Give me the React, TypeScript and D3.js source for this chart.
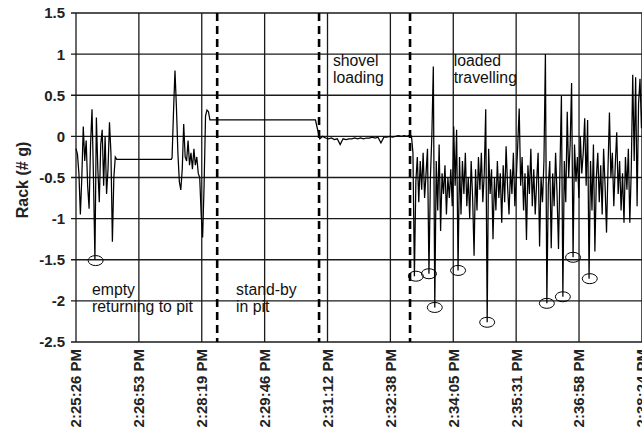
import { useEffect, useRef } from "react";
import * as d3 from "d3";

// Eje X: fechas de Excel, una marca cada 0.001 día (86.4 s) desde 2:25:26 PM
const xTickLabels = [
  "2:25:26 PM", "2:26:53 PM", "2:28:19 PM", "2:29:46 PM", "2:31:12 PM",
  "2:32:38 PM", "2:34:05 PM", "2:35:31 PM", "2:36:58 PM", "2:38:24 PM",
];
const TICK_STEP = 86.4;
const yTicks = [-2.5, -2, -1.5, -1, -0.5, 0, 0.5, 1, 1.5];

// Lecturas del rack (g). start = segundos desde 2:25:26 PM, step = paso de muestreo
const emptyReturn = {
  start: 0, step: 2,
  values: [
    -0.15, -0.22, -0.45, -0.95, -0.5, 0.12, -0.3, -0.05, -0.6, -0.88,
    -0.1, 0.33, -0.5, -1.5, 0.23, -0.4, -0.8, -0.1, 0.08, -0.6,
    0.0, -0.7, -0.4, 0.17, -0.2, -1.28, -0.5, -0.25,
  ],
};
const emptyIdle = { start: 56, step: 75, values: [-0.28, -0.28] };
const dumpBurst = {
  start: 132, step: 2,
  values: [
    -0.26, 0.3, 0.8, 0.35, -0.2, -0.55, -0.65, -0.4, 0.15, -0.25,
    -0.3, -0.05, -0.35, -0.2, -0.4, -0.15, -0.35, -0.25, -0.45, -0.5,
    -0.95, -1.23, -0.6, 0.25, 0.32, 0.3, 0.2,
  ],
};
const standBy = { start: 186, step: 143, values: [0.2, 0.2] };
const shovelLoading = {
  start: 331, step: 4,
  values: [
    0.12, -0.03, 0.0, -0.02, -0.03, -0.02, -0.04, -0.03, -0.1, -0.03,
    -0.04, -0.03, -0.03, -0.02, -0.03, -0.02, -0.03, -0.02, -0.02, -0.01,
    -0.02, -0.01, -0.08, -0.01, -0.01, 0.0, -0.01, 0.0, 0.01, 0.0,
    0.01, 0.0, 0.02,
  ],
};
const loadedTravel = {
  start: 461, step: 2,
  values: [
    0.0, -0.2, -1.7, -0.55, -0.25, -0.8, -0.3, -0.65, -0.2, -0.75,
    -0.45, -0.15, -1.67, -0.5, 0.02, 0.85, -2.08, -0.3, -0.9, -0.1,
    -1.15, -0.45, -0.7, -0.35, -0.95, -0.5, -0.75, -0.4, -0.85, 0.12,
    -0.6, 0.08, -1.63, -0.25, -0.95, -0.3, -0.7, -0.2, -0.85, -0.5,
    -1.0, -0.3, -0.75, -1.45, -0.4, -0.9, -0.25, -0.65, -0.2, -0.8,
    -0.45, 0.33, -2.26, -0.15, -0.7, -0.4, -1.25, -0.5, -0.9, -0.3,
    -0.75, -0.45, -1.05, -0.35, -0.8, -0.12, -0.6, -0.95, -0.4, -0.7,
    -0.2, -0.85, -0.5, -0.1, 0.34, -0.6, -0.25, -0.9, -0.45, -1.26,
    -0.35, -0.7, -0.15, -0.85, -0.4, -0.95, -0.55, -0.2, -1.34, -0.5,
    -0.8, -0.3, 1.0, -2.03, -0.6, -0.3, -1.36, -0.45, -0.85, -0.2,
    -0.7, -1.37, -0.4, 0.49, -1.95, -0.3, -0.8, 0.3, -0.5, -0.1,
    0.65, -1.47, -0.1, -0.55, -0.25, -0.75, 0.0, -0.45, -0.2, 0.22,
    -0.6, 0.2, -1.73, -0.3, -0.9, -0.1, -1.4, -0.5, -0.2, -0.8,
    -0.35, -0.95, -0.15, -0.6, -1.17, -0.4, 0.29, -0.5, -0.2, -0.85,
    -0.35, 0.05, -0.7, -0.3, -0.9, -0.45, -1.05, -0.25, -0.65, -0.15,
    -1.05, -0.4, 0.75, -0.3, 0.72, -0.85, 0.4, 0.7, 0.1, 0.45,
    0.2, 0.6,
  ],
};

// Límites de fase (líneas discontinuas), en segundos
const phaseBoundaries = [194, 334, 459];
// Picos marcados con elipse: [segundos, g]
const markedDips = [
  [27, -1.51], [467, -1.7], [485, -1.67], [493, -2.08], [525, -1.63],
  [565, -2.26], [647, -2.03], [669, -1.95], [683, -1.47], [706, -1.73],
];
// Rótulos de fase: posición en unidades de datos (segundos, g)
const phaseLabels = [
  { t: 22, v: -1.93, lines: ["empty", "returning to pit"] },
  { t: 220, v: -1.93, lines: ["stand-by", "in pit"] },
  { t: 353, v: 0.85, lines: ["shovel", "loading"] },
  { t: 519, v: 0.85, lines: ["loaded", "travelling"] },
];

const FONT = "'Liberation Sans', Arial, sans-serif";

const App = () => {
  const svgRef = useRef<SVGSVGElement | null>(null);

  useEffect(() => {
    if (!svgRef.current) return;
    const svg = d3.select(svgRef.current);
    svg.selectAll("*").remove();

    const W = 642;
    const H = 439;
    const left = 76;
    const top = 13;
    const bottom = 342;

    const x = d3.scaleLinear()
      .domain([0, TICK_STEP * (xTickLabels.length - 1)])
      .range([left, 641.9]);
    const y = d3.scaleLinear().domain([-2.5, 1.5]).range([bottom, top]);

    svg.append("rect").attr("width", W).attr("height", H).attr("fill", "#fff");

    // Rejilla horizontal (con marcas hacia fuera)
    svg.append("g")
      .selectAll("line")
      .data(yTicks)
      .enter()
      .append("line")
      .attr("x1", left - 5)
      .attr("x2", W)
      .attr("y1", (d) => y(d))
      .attr("y2", (d) => y(d))
      .attr("stroke", "#1a1a1a")
      .attr("stroke-width", 1.3);

    // Rejilla vertical
    svg.append("g")
      .selectAll("line")
      .data(xTickLabels)
      .enter()
      .append("line")
      .attr("x1", (d, i) => x(i * TICK_STEP))
      .attr("x2", (d, i) => x(i * TICK_STEP))
      .attr("y1", top)
      .attr("y2", bottom)
      .attr("stroke", "#1a1a1a")
      .attr("stroke-width", 1.3);

    // Etiquetas eje Y
    svg.append("g")
      .selectAll("text")
      .data(yTicks)
      .enter()
      .append("text")
      .attr("x", 65)
      .attr("y", (d) => y(d))
      .attr("dy", "0.36em")
      .attr("text-anchor", "end")
      .style("font-family", FONT)
      .style("font-size", "15px")
      .style("font-weight", "bold")
      .style("fill", "#222")
      .text((d) => String(d));

    // Etiquetas eje X (rotadas)
    svg.append("g")
      .selectAll("text")
      .data(xTickLabels)
      .enter()
      .append("text")
      .attr("transform", (d, i) => `translate(${x(i * TICK_STEP)},349) rotate(-90)`)
      .attr("dy", "0.36em")
      .attr("text-anchor", "end")
      .style("font-family", FONT)
      .style("font-size", "15px")
      .style("font-weight", "bold")
      .style("fill", "#222")
      .text((d) => d);

    // Título eje Y
    svg.append("text")
      .attr("transform", "translate(22,180) rotate(-90)")
      .attr("dy", "0.36em")
      .attr("text-anchor", "middle")
      .style("font-family", FONT)
      .style("font-size", "16px")
      .style("font-weight", "bold")
      .style("fill", "#222")
      .text("Rack (# g)");

    // Líneas de fase
    svg.append("g")
      .selectAll("line")
      .data(phaseBoundaries)
      .enter()
      .append("line")
      .attr("x1", (d) => x(d))
      .attr("x2", (d) => x(d))
      .attr("y1", top)
      .attr("y2", bottom)
      .attr("stroke", "#000")
      .attr("stroke-width", 2.6)
      .attr("stroke-dasharray", "8,5");

    // Serie
    const segments = [emptyReturn, emptyIdle, dumpBurst, standBy, shovelLoading, loadedTravel];
    const points: [number, number][] = [];
    segments.forEach((s) => {
      s.values.forEach((v, i) => points.push([s.start + i * s.step, v]));
    });

    svg.append("path")
      .datum(points)
      .attr("fill", "none")
      .attr("stroke", "#000")
      .attr("stroke-width", 1.25)
      .attr("d", d3.line<[number, number]>()
        .x((d) => x(d[0]))
        .y((d) => y(d[1])));

    // Elipses
    svg.append("g")
      .selectAll("ellipse")
      .data(markedDips)
      .enter()
      .append("ellipse")
      .attr("cx", (d) => x(d[0]))
      .attr("cy", (d) => y(d[1]))
      .attr("rx", 7.5)
      .attr("ry", 5)
      .attr("fill", "none")
      .attr("stroke", "#000")
      .attr("stroke-width", 1);

    // Rótulos de fase
    phaseLabels.forEach((p) => {
      const t = svg.append("text")
        .attr("x", x(p.t))
        .attr("y", y(p.v))
        .style("font-family", FONT)
        .style("font-size", "15.8px")
        .style("fill", "#111");
      p.lines.forEach((line, i) => {
        t.append("tspan")
          .attr("x", x(p.t))
          .attr("dy", i === 0 ? 0 : 17)
          .text(line);
      });
    });
  }, []);

  return (
    <div style={{ position: "absolute", left: 0, top: 0 }}>
      <svg ref={svgRef} width={642} height={439} style={{ display: "block" }} />
    </div>
  );
};

export default App;
